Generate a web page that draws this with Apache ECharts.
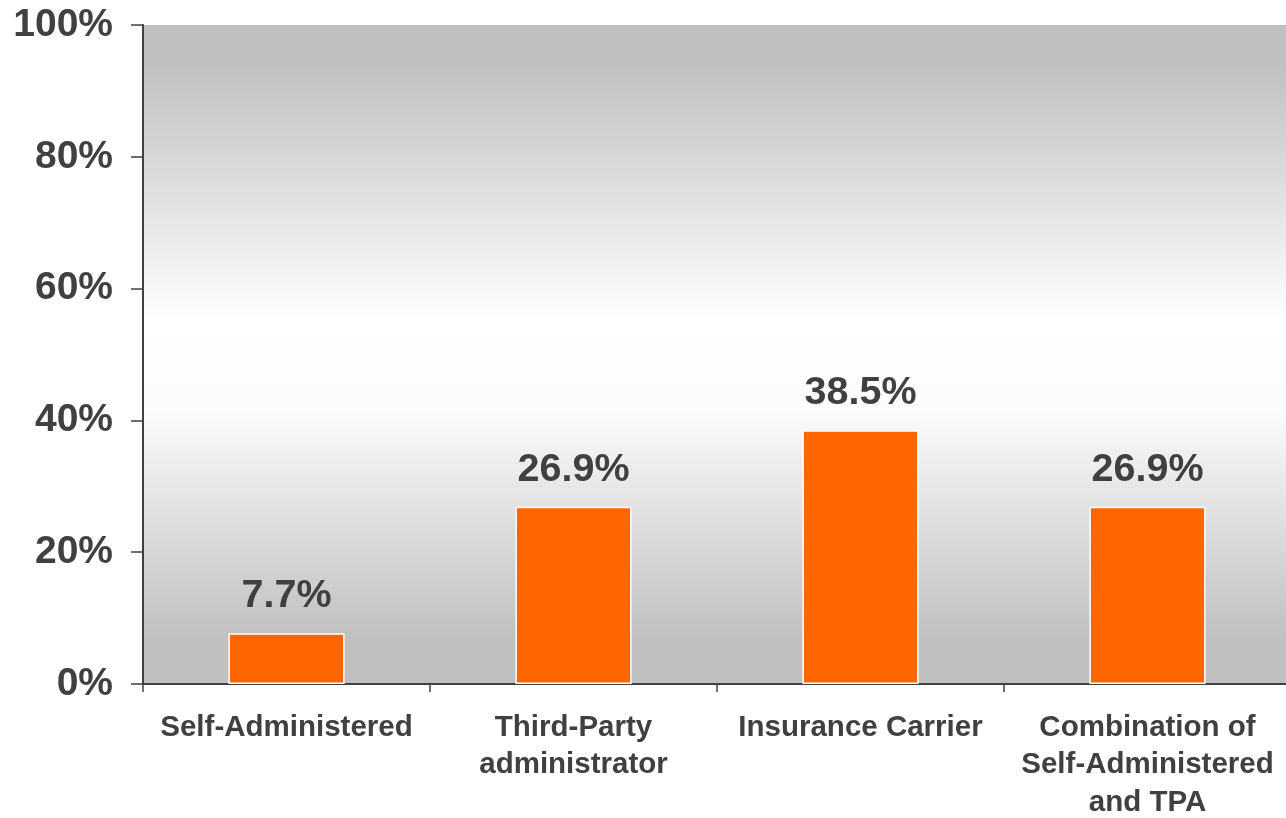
<!DOCTYPE html>
<html>
<head>
<meta charset="utf-8">
<style>
  html, body { margin: 0; padding: 0; background: #ffffff; }
  #chart { width: 1286px; height: 818px; }
</style>
<script src="https://cdn.jsdelivr.net/npm/echarts@6/dist/echarts.min.js"></script>
</head>
<body>
<div id="chart"></div>
<script>
// Claims administration method: share of respondents
const categories = [
  'Self-Administered',
  'Third-Party\nadministrator',
  'Insurance Carrier',
  'Combination of\nSelf-Administered\nand TPA'
];
const shares = [7.7, 26.9, 38.5, 26.9];
const yTicks = [0, 20, 40, 60, 80, 100];

const textColor = '#404040';
const fontFamily = 'Liberation Sans, Arial, sans-serif';

const chart = echarts.init(document.getElementById('chart'), null, { renderer: 'canvas' });

chart.setOption({
  animation: false,
  backgroundColor: '#ffffff',
  grid: {
    left: 143,
    top: 25,
    width: 1148,
    height: 659,
    outerBoundsMode: 'none',
    containLabel: false,
    show: true,
    borderWidth: 0,
    // grey at top and bottom, fading to white across the middle band
    backgroundColor: {
      type: 'linear', x: 0, y: 0, x2: 0, y2: 1,
      colorStops: [
        { offset: 0, color: '#c0c0c0' },
        { offset: 0.06, color: '#c0c0c0' },
        { offset: 0.45, color: '#ffffff' },
        { offset: 0.58, color: '#fcfcfc' },
        { offset: 0.93, color: '#c0c0c0' },
        { offset: 1, color: '#c0c0c0' }
      ]
    }
  },
  xAxis: {
    type: 'category',
    data: categories,
    axisLine: { show: true, lineStyle: { color: textColor, width: 2 } },
    axisTick: { show: true, length: 8, lineStyle: { color: textColor, width: 1.5 } },
    axisLabel: {
      color: textColor,
      fontFamily: fontFamily,
      fontWeight: 'bold',
      fontSize: 29.5,
      lineHeight: 37.5,
      margin: 25,
      interval: 0
    },
    splitLine: { show: false }
  },
  yAxis: {
    type: 'value',
    min: yTicks[0],
    max: yTicks[yTicks.length - 1],
    interval: yTicks[1] - yTicks[0],
    axisLine: { show: true, lineStyle: { color: textColor, width: 2 } },
    axisTick: { show: true, length: 12, lineStyle: { color: textColor, width: 1.5 } },
    axisLabel: {
      color: textColor,
      fontFamily: fontFamily,
      fontWeight: 'bold',
      fontSize: 39,
      margin: 30,
      formatter: v => v + '%'
    },
    splitLine: { show: false }
  },
  series: [{
    type: 'bar',
    data: shares,
    barWidth: '40.5%',
    itemStyle: { color: '#ff6600', borderColor: '#ffffff', borderWidth: 1.5 },
    label: {
      show: true,
      position: 'top',
      distance: 17,
      color: textColor,
      fontFamily: fontFamily,
      fontWeight: 'bold',
      fontSize: 39.5,
      formatter: p => p.value.toFixed(1) + '%'
    }
  }]
});
</script>
</body>
</html>
